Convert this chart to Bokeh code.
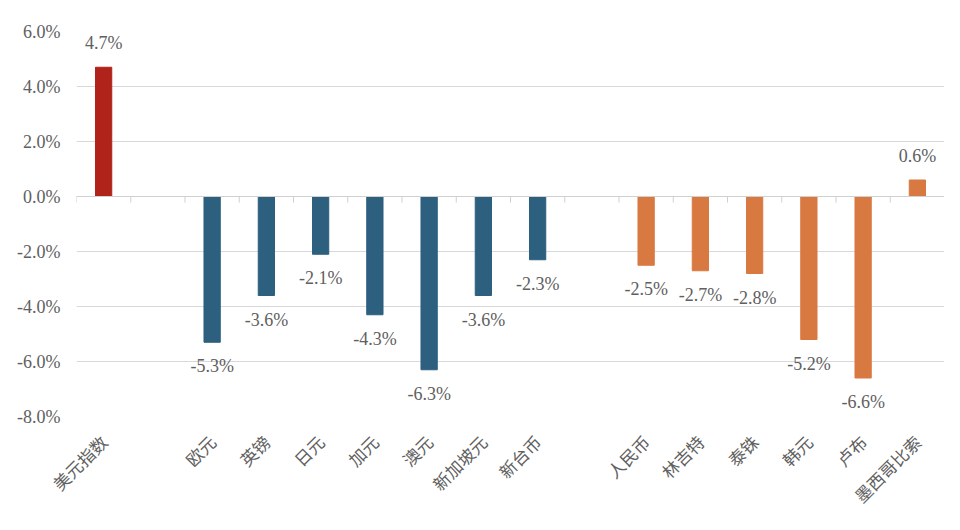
import math
from bokeh.plotting import figure
from bokeh.models import (FactorRange, Range1d, FixedTicker, PrintfTickFormatter,
                          ColumnDataSource, Span)
from bokeh.transform import dodge
from bokeh.core.properties import value
from bokeh.embed import file_html
from bokeh.resources import INLINE

# ---- data ----
index_cats = ["美元指数"]
index_vals = [4.7]
dev_cats = ["欧元", "英镑", "日元", "加元", "澳元", "新加坡元", "新台币"]
dev_vals = [-5.3, -3.6, -2.1, -4.3, -6.3, -3.6, -2.3]
em_cats = ["人民币", "林吉特", "泰铢", "韩元", "卢布", "墨西哥比索"]
em_vals = [-2.5, -2.7, -2.8, -5.2, -6.6, 0.6]
y_ticks = [-8, -6, -4, -2, 0, 2, 4, 6]

group_colors = ["#B0231B", "#2D5F7F", "#D97942"]

factors = index_cats + [" "] + dev_cats + ["  "] + em_cats

cats = index_cats + dev_cats + em_cats
vals = index_vals + dev_vals + em_vals
colors = ([group_colors[0]] * len(index_cats) + [group_colors[1]] * len(dev_cats)
          + [group_colors[2]] * len(em_cats))
labels = ["%.1f%%" % v for v in vals]
offs = [-24 if v > 0 else 24 for v in vals]

src = ColumnDataSource(dict(x=cats, top=vals, color=colors, label=labels, off=offs))

p = figure(x_range=FactorRange(*factors, range_padding=0),
           y_range=Range1d(-8, 6),
           width=944, height=519, output_backend="svg", toolbar_location=None,
           min_border_left=76, min_border_right=0, min_border_top=31, min_border_bottom=103)
p.outline_line_color = None
p.background_fill_color = "white"
p.border_fill_color = "white"

p.vbar(x="x", top="top", bottom=0, width=0.30, color="color", source=src)

# zero line and category boundary ticks
p.add_layout(Span(location=0, dimension="width", line_color="#d0d0d0", line_width=1))
tick_src = ColumnDataSource(dict(x=factors))
p.segment(x0=dodge("x", -0.5, range=p.x_range), x1=dodge("x", -0.5, range=p.x_range),
          y0=0, y1=-0.22, line_color="#d0d0d0", line_width=1, source=tick_src)
end_src = ColumnDataSource(dict(x=factors[-1:]))
p.segment(x0=dodge("x", 0.5, range=p.x_range), x1=dodge("x", 0.5, range=p.x_range),
          y0=0, y1=-0.22, line_color="#d0d0d0", line_width=1, source=end_src)

p.text(x="x", y="top", text="label", y_offset="off", source=src,
       text_align="center", text_baseline="middle",
       text_font=value("Liberation Serif"), text_font_size="18px", text_color="#606060")

# y axis
p.yaxis.ticker = FixedTicker(ticks=y_ticks)
p.yaxis.formatter = PrintfTickFormatter(format="%.1f%%")
p.yaxis.axis_line_color = None
p.yaxis.major_tick_line_color = None
p.yaxis.minor_tick_line_color = None
p.yaxis.major_label_text_font = "Liberation Serif"
p.yaxis.major_label_text_font_size = "18px"
p.yaxis.major_label_text_color = "#606060"
p.yaxis.major_label_standoff = 10

# x axis
p.xaxis.axis_line_color = None
p.xaxis.major_tick_line_color = None
p.xaxis.minor_tick_line_color = None
p.xaxis.major_label_orientation = math.pi / 4
p.xaxis.major_label_text_font = "Noto Sans CJK SC"
p.xaxis.major_label_text_font_size = "17px"
p.xaxis.major_label_text_color = "#606060"
p.xaxis.major_label_standoff = 16

p.xgrid.grid_line_color = None
p.ygrid.grid_line_color = "#d9d9d9"
p.ygrid.grid_line_width = 1

open("out.html", "w").write(file_html(p, INLINE))
